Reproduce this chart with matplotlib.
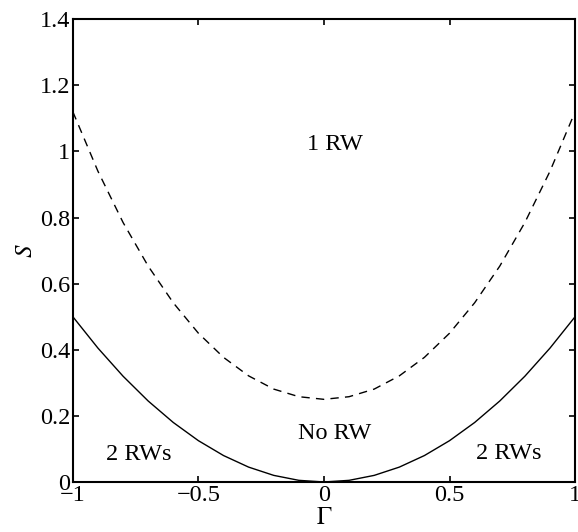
import matplotlib
matplotlib.use("Agg")
import matplotlib.pyplot as plt

plt.rcParams['font.family'] = ['Liberation Serif', 'DejaVu Serif']
plt.rcParams['mathtext.fontset'] = 'stix'

# Boundary curves sampled at Gamma = -1 ... 1 in steps of 0.1
gamma = [-1.0, -0.9, -0.8, -0.7, -0.6, -0.5, -0.4, -0.3, -0.2, -0.1, 0.0,
         0.1, 0.2, 0.3, 0.4, 0.5, 0.6, 0.7, 0.8, 0.9, 1.0]
s_solid = [0.500, 0.405, 0.320, 0.245, 0.180, 0.125, 0.080, 0.045, 0.020, 0.005, 0.000,
           0.005, 0.020, 0.045, 0.080, 0.125, 0.180, 0.245, 0.320, 0.405, 0.500]
s_dashed = [1.120, 0.940, 0.785, 0.653, 0.542, 0.450, 0.377, 0.321, 0.281, 0.258, 0.250,
            0.258, 0.281, 0.321, 0.377, 0.450, 0.542, 0.653, 0.785, 0.940, 1.120]

region_labels = ["1 RW", "No RW", "2 RWs", "2 RWs"]
region_x = [0.044, 0.044, -0.737, 0.737]
region_y = [1.02, 0.148, 0.082, 0.085]

xticks = [-1, -0.5, 0, 0.5, 1]
xticklabels = ["\u22121", "\u22120.5", "0", "0.5", "1"]
yticks = [0, 0.2, 0.4, 0.6, 0.8, 1, 1.2, 1.4]
yticklabels = ["0", "0.2", "0.4", "0.6", "0.8", "1", "1.2", "1.4"]

fig = plt.figure(figsize=(5.78, 5.32), dpi=100)
ax = fig.add_axes([0.126, 0.094, 0.869, 0.870])

ax.plot(gamma, s_solid, color='black', lw=1.0, ls='-')
ax.plot(gamma, s_dashed, color='black', lw=1.0, ls=(0, (6, 4.5)))

for t, x, y in zip(region_labels, region_x, region_y):
    ax.text(x, y, t, ha='center', va='center', fontsize=17.5)

ax.set_xlim(-1, 1)
ax.set_ylim(0, 1.4)
ax.set_xticks(xticks)
ax.set_xticklabels(xticklabels)
ax.set_yticks(yticks)
ax.set_yticklabels(yticklabels)
ax.tick_params(direction='in', top=True, right=True, length=4, width=1.2,
               labelsize=17.5, pad=2)
for sp in ax.spines.values():
    sp.set_linewidth(1.5)

ax.set_xlabel(r'$\Gamma$', fontsize=18, labelpad=1)
ax.set_ylabel(r'$S$', fontsize=18, labelpad=2)

fig.savefig("out.png", dpi=100)
